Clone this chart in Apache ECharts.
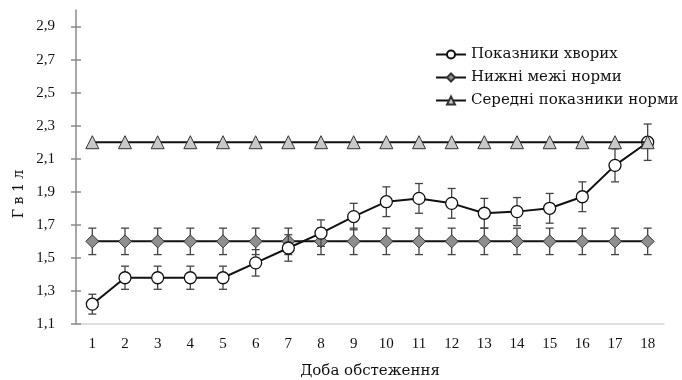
<!DOCTYPE html>
<html>
<head>
<meta charset="utf-8">
<script src="https://cdn.jsdelivr.net/npm/echarts@6/dist/echarts.min.js"></script>
<style>html,body{margin:0;padding:0;background:#fff}#c{width:682px;height:380px}</style>
</head>
<body>
<div id="c"></div>
<script>
const days = ['1','2','3','4','5','6','7','8','9','10','11','12','13','14','15','16','17','18'];
const patients = [1.22,1.38,1.38,1.38,1.38,1.47,1.56,1.65,1.75,1.84,1.86,1.83,1.77,1.78,1.80,1.87,2.06,2.20];
const patientErr = [0.06,0.07,0.07,0.07,0.07,0.08,0.08,0.08,0.08,0.09,0.09,0.09,0.09,0.085,0.09,0.09,0.10,0.11];
const lowerNorm = [1.6,1.6,1.6,1.6,1.6,1.6,1.6,1.6,1.6,1.6,1.6,1.6,1.6,1.6,1.6,1.6,1.6,1.6];
const lowerErr = [0.08,0.08,0.08,0.08,0.08,0.08,0.08,0.08,0.08,0.08,0.08,0.08,0.08,0.08,0.08,0.08,0.08,0.08];
const midNorm = [2.2,2.2,2.2,2.2,2.2,2.2,2.2,2.2,2.2,2.2,2.2,2.2,2.2,2.2,2.2,2.2,2.2,2.2];
const yTicks = [1.1,1.3,1.5,1.7,1.9,2.1,2.3,2.5,2.7,2.9];
const names = ['Показники хворих','Нижні межі норми','Середні показники норми'];

const FONT = 'Liberation Serif';
const WIDE = 'DejaVu Serif';
const chart = echarts.init(document.getElementById('c'));

function errSeries(vals, errs, z) {
  return {
    type: 'custom',
    z: z,
    silent: true,
    encode: {x: 0, y: 1},
    data: vals.map((v, i) => [i, v, errs[i]]),
    renderItem: function (params, api) {
      const x = api.value(0), v = api.value(1), e = api.value(2);
      const t = api.coord([x, v + e]);
      const b = api.coord([x, v - e]);
      const hw = 4;
      const st = {stroke: '#444', lineWidth: 1.3};
      return {type: 'group', children: [
        {type: 'line', shape: {x1: t[0], y1: t[1], x2: b[0], y2: b[1]}, style: st},
        {type: 'line', shape: {x1: t[0]-hw, y1: t[1], x2: t[0]+hw, y2: t[1]}, style: st},
        {type: 'line', shape: {x1: b[0]-hw, y1: b[1], x2: b[0]+hw, y2: b[1]}, style: st}
      ]};
    }
  };
}

const fmt = v => String(Math.round(v*10)/10).replace('.', ',');

chart.setOption({
  animation: false,
  grid: {left: 76, right: 18, top: 10, bottom: 56, containLabel: false, outerBoundsMode: 'none'},
  legend: {
    data: names,
    orient: 'vertical',
    left: 430,
    top: 42,
    itemGap: 8,
    itemWidth: 30,
    itemHeight: 10,
    textStyle: {fontFamily: WIDE, fontSize: 15, color: '#111'}
  },
  graphic: [{
    type: 'text',
    x: 19, y: 194,
    rotation: Math.PI/2,
    style: {text: 'Г в 1 л', font: '14px "DejaVu Serif"', fill: '#111', textAlign: 'center', textVerticalAlign: 'middle'}
  }],
  xAxis: {
    type: 'category',
    data: days,
    boundaryGap: true,
    name: 'Доба обстеження',
    nameLocation: 'middle',
    nameGap: 40,
    nameTextStyle: {fontFamily: WIDE, fontSize: 15, color: '#111'},
    axisLine: {lineStyle: {color: '#d4d4d4', width: 1.5}},
    axisTick: {show: false},
    axisLabel: {fontFamily: FONT, fontSize: 15, color: '#111', margin: 13}
  },
  yAxis: [{
    type: 'value',
    min: 1.1, max: 3.0,
    splitLine: {show: false},
    axisLine: {show: true, lineStyle: {color: '#8a8a8a', width: 1.5}},
    axisTick: {show: true, length: 5, customValues: yTicks, lineStyle: {color: '#8a8a8a', width: 1.5}},
    axisLabel: {customValues: yTicks, formatter: fmt, fontFamily: FONT, fontSize: 15, color: '#111', margin: 21}
  }, {
    type: 'value',
    position: 'left',
    min: 1.1, max: 3.0,
    splitLine: {show: false},
    axisLine: {show: false},
    axisTick: {show: true, inside: true, length: 5, customValues: yTicks, lineStyle: {color: '#8a8a8a', width: 1.5}},
    axisLabel: {show: false}
  }],
  series: [
    errSeries(lowerNorm, lowerErr, 2),
    {
      name: names[1], type: 'line', data: lowerNorm, z: 3,
      symbol: 'diamond', symbolSize: 13,
      lineStyle: {color: '#111', width: 2},
      itemStyle: {color: '#8f8f8f', borderColor: '#333', borderWidth: 1}
    },
    errSeries(patients, patientErr, 4),
    {
      name: names[0], type: 'line', data: patients, z: 5,
      symbol: 'circle', symbolSize: 12,
      lineStyle: {color: '#111', width: 2},
      itemStyle: {color: '#fff', borderColor: '#111', borderWidth: 1.3}
    },
    {
      name: names[2], type: 'line', data: midNorm, z: 6,
      symbol: 'triangle', symbolSize: 13,
      lineStyle: {color: '#111', width: 2},
      itemStyle: {color: '#c9c9c9', borderColor: '#333', borderWidth: 1}
    }
  ]
});
</script>
</body>
</html>
